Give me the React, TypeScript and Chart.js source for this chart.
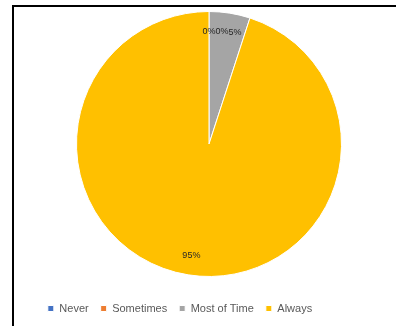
import React, { useEffect, useRef } from "react";
import { Chart, registerables } from "chart.js";

Chart.register(...registerables);

const categories = ["Never", "Sometimes", "Most of Time", "Always"];
const values = [0, 0, 5, 95];
const colors = ["#4472C4", "#ED7D31", "#A5A5A5", "#FFC000"];

const FONT = "'Liberation Sans', Arial, sans-serif";

const labelPlugin = {
  id: "pctLabels",
  afterDatasetsDraw(chart: any) {
    const ctx = chart.ctx;
    const meta = chart.getDatasetMeta(0);
    const data = chart.data.datasets[0].data as number[];
    const total = data.reduce((a: number, b: number) => a + b, 0);
    ctx.save();
    ctx.font = "9px " + FONT;
    ctx.fillStyle = "#262626";
    ctx.textAlign = "left";
    ctx.textBaseline = "middle";
    let prevRight = -Infinity;
    let prevY: number | null = null;
    meta.data.forEach((arc: any, i: number) => {
      const { x, y, startAngle, endAngle, outerRadius } = arc.getProps(
        ["x", "y", "startAngle", "endAngle", "outerRadius"],
        true
      );
      const mid = (startAngle + endAngle) / 2;
      const r = outerRadius * 0.85;
      const text = Math.round((data[i] / total) * 100) + "%";
      const w = ctx.measureText(text).width;
      let lx = x + Math.cos(mid) * r - w / 2;
      const ly = y + Math.sin(mid) * r;
      if (prevY !== null && Math.abs(ly - prevY) < 10 && lx < prevRight) {
        lx = prevRight;
      }
      ctx.fillText(text, lx, ly);
      prevRight = lx + w;
      prevY = ly;
    });
    ctx.restore();
  },
};

export default function App() {
  const ref = useRef<HTMLCanvasElement | null>(null);

  useEffect(() => {
    if (!ref.current) return;
    const chart = new Chart(ref.current, {
      type: "pie",
      data: {
        labels: categories,
        datasets: [
          {
            data: values,
            backgroundColor: colors,
            borderColor: "#ffffff",
            borderWidth: 1,
          },
        ],
      },
      options: {
        responsive: false,
        animation: false,
        layout: { padding: { left: 18, right: 54, top: 11, bottom: 2 } },
        plugins: {
          legend: {
            position: "bottom",
            labels: {
              boxWidth: 6,
              boxHeight: 6,
              padding: 12,
              color: "#595959",
              font: { size: 11, family: FONT },
            },
          },
          title: {
            display: true,
            position: "bottom",
            text: "",
            weight: 500,
            font: { size: 1, lineHeight: 1 },
            padding: { top: 0, bottom: 13 },
          },
          subtitle: {
            display: true,
            position: "left",
            text: "",
            font: { size: 1, lineHeight: 1 },
            padding: { top: 0, bottom: 57 },
          },
          tooltip: { enabled: false },
        },
      } as any,
      plugins: [labelPlugin],
    });
    return () => chart.destroy();
  }, []);

  return (
    <div
      style={{
        position: "fixed",
        left: 0,
        top: 0,
        width: 396,
        height: 326,
        overflow: "hidden",
        background: "#fff",
      }}
    >
      <div
        style={{
          position: "absolute",
          left: 12,
          top: 5,
          width: 600,
          height: 600,
          border: "2px solid #000",
        }}
      />
      <canvas
        ref={ref}
        width={396}
        height={326}
        style={{ position: "absolute", left: 0, top: 0, width: 396, height: 326 }}
      />
    </div>
  );
}
